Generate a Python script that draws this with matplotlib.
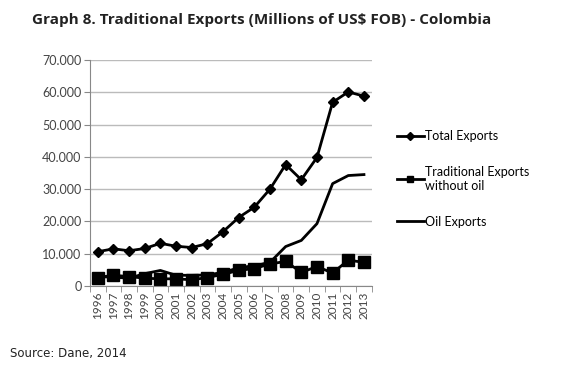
import matplotlib.pyplot as plt
from matplotlib.lines import Line2D
import numpy as np

# Datos
years = [str(y) for y in range(1996, 2014)]
total_exports = [10600, 11500, 10900, 11600, 13200, 12300, 11900, 13100, 16800, 21200,
                 24400, 30000, 37600, 32900, 39800, 56900, 60100, 58800]
traditional_no_oil = [2600, 3300, 2900, 2400, 2200, 2200, 1900, 2600, 3600, 4800,
                      5400, 6800, 7600, 4200, 6000, 4000, 8000, 7300]
oil_exports = [2900, 2700, 2400, 3800, 4800, 3300, 3300, 3400, 4200, 5600,
               6300, 7300, 12200, 14100, 19300, 31700, 34200, 34500]
yticks = [0, 10000, 20000, 30000, 40000, 50000, 60000, 70000]
ytick_labels = ['0', '10.000', '20.000', '30.000', '40.000', '50.000', '60.000', '70.000']

fig = plt.figure(figsize=(5.8, 3.68), dpi=100)
ax = fig.add_axes([0.155, 0.223, 0.486, 0.614])

x = np.arange(len(years))
ax.plot(x, total_exports, color='black', lw=2, marker='D', markersize=5, label='Total Exports')
ax.plot(x, traditional_no_oil, color='black', lw=2, marker='s', markersize=8,
        label='Traditional Exports\nwithout oil')
ax.plot(x, oil_exports, color='black', lw=2, label='Oil Exports')

ax.set_xlim(-0.5, len(years) - 0.5)
ax.set_ylim(0, 70000)
ax.set_yticks(yticks)
ax.set_yticklabels(ytick_labels, fontsize=9, family='Lato', color='#444444')
ax.set_xticks(x)
ax.set_xticklabels(years, rotation=90, fontsize=8.5, family='Lato', color='#444444')
ax.set_xticks(np.arange(-0.5, len(years), 1), minor=True)
ax.tick_params(axis='x', which='major', length=0, pad=4)
ax.tick_params(axis='x', which='minor', length=4, color='#888888')
ax.tick_params(axis='y', length=4, color='#888888', pad=2)
ax.grid(axis='y', color='#bbbbbb', lw=1)
ax.set_axisbelow(True)
for s in ['top', 'right']:
    ax.spines[s].set_visible(False)
for s in ['left', 'bottom']:
    ax.spines[s].set_color('#888888')

# Leyenda con marcadores pequeños
handles = [Line2D([], [], color='black', lw=2, marker='D', markersize=4),
           Line2D([], [], color='black', lw=2, marker='s', markersize=5),
           Line2D([], [], color='black', lw=2)]
labels = [l.get_label() for l in ax.get_lines()]
fig.legend(handles, labels, loc='center left', bbox_to_anchor=(0.684, 0.514), frameon=False,
           prop={'family': 'Lato', 'size': 9}, handlelength=2.2, handletextpad=0.1,
           labelspacing=1.9, borderpad=0, borderaxespad=0)

fig.text(0.451, 0.946, 'Graph 8. Traditional Exports (Millions of US$ FOB) - Colombia',
         ha='center', va='center', fontsize=11, fontweight='bold', family='Open Sans',
         color='#222222')
fig.text(0.017, 0.04, 'Source: Dane, 2014', ha='left', va='center', fontsize=8.5,
         color='#222222')

plt.savefig('out.png', dpi=100)
